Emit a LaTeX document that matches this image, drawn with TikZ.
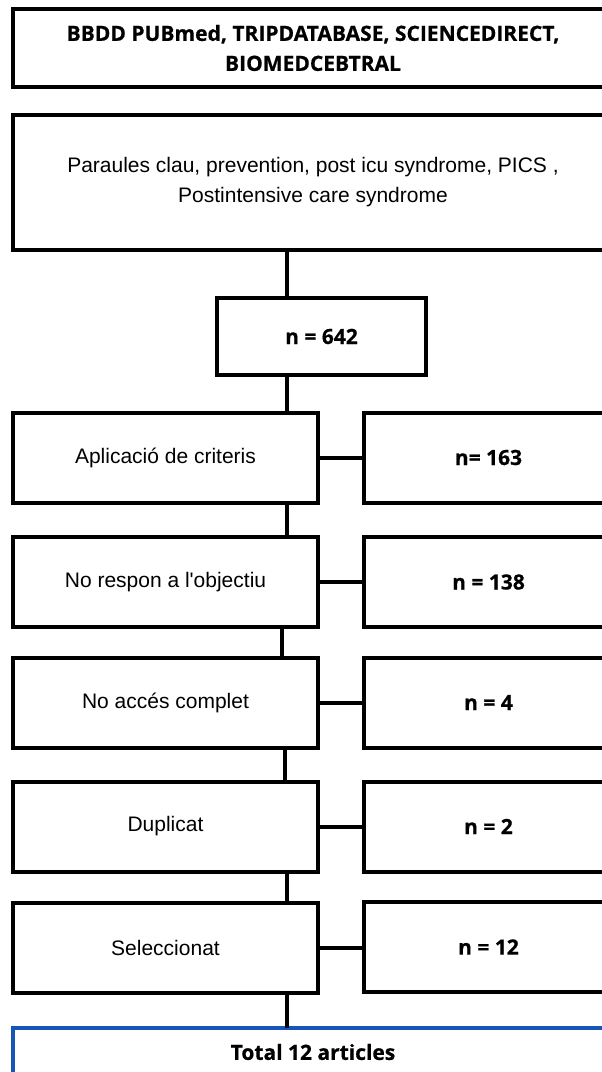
\documentclass[tikz,border=0pt]{standalone}
\usepackage{fontspec}
\setmainfont{Liberation Sans}[Ligatures=TeXOff]
\newfontfamily\opsans{Open Sans}[BoldFeatures={FakeBold=0.6}]
\definecolor{totalblue}{RGB}{22,86,184}
\begin{document}
\begin{tikzpicture}[x=1pt,y=-1pt,
  box/.style={draw=black, line width=4pt, rectangle, inner sep=0pt, outer sep=0pt, align=center,
              font=\fontsize{21}{30}\selectfont},
  bbox/.style={box, font=\opsans\bfseries\fontsize{21}{30}\selectfont},
  leftbox/.style={box, minimum width=305pt, minimum height=90pt},
  rightbox/.style={bbox, minimum width=249pt, minimum height=90pt},
  link/.style={draw=black, line width=4pt}]
\useasboundingbox (0,0) rectangle (602,1072);
\clip (0,0) rectangle (602,1072);

\node[bbox, minimum width=600pt, minimum height=78pt] (db) at (313,48)
  {BBDD PUBmed, TRIPDATABASE, SCIENCEDIRECT,\\BIOMEDCEBTRAL};
\node[box, minimum width=600pt, minimum height=135pt] (kw) at (313,182.5)
  {Paraules clau, prevention, post icu syndrome, PICS ,\\Postintensive care syndrome};
\node[bbox, minimum width=209pt, minimum height=77pt] (n) at (321.5,336.5) {n = 642};

\node[leftbox] (l1) at (165.5,457.5) {Aplicació de criteris};
\node[rightbox] (r1) at (488.5,457.5) {n= 163};
\node[leftbox] (l2) at (165.5,582) {No respon a l'objectiu};
\node[rightbox] (r2) at (488.5,582) {n = 138};
\node[leftbox] (l3) at (165.5,702.5) {No accés complet};
\node[rightbox] (r3) at (488.5,702.5) {n = 4};
\node[leftbox] (l4) at (165.5,826.5) {Duplicat};
\node[rightbox] (r4) at (488.5,826.5) {n = 2};
\node[leftbox] (l5) at (165.5,948) {Seleccionat};
\node[rightbox] (r5) at (488.5,947) {n = 12};

\node[bbox, draw=totalblue, minimum width=600pt, minimum height=48pt] (tot) at (313,1052) {Total 12 articles};

\coordinate (ca) at (287,0);
\coordinate (cb) at (282,0);
\coordinate (cc) at (285,0);

\draw[link] (kw.south -| ca) -- (n.north -| ca);
\draw[link] (n.south -| ca) -- (l1.north -| ca);
\draw[link] (l1.south -| ca) -- (l2.north -| ca);
\draw[link] (l2.south -| cb) -- (l3.north -| cb);
\draw[link] (l3.south -| cc) -- (l4.north -| cc);
\draw[link] (l4.south -| ca) -- (l5.north -| ca);
\draw[link] (l5.south -| ca) -- (tot.north -| ca);

\draw[link] (l1.east) -- (l1.east -| r1.west);
\draw[link] (l2.east) -- (l2.east -| r2.west);
\draw[link] (l3.east) -- (l3.east -| r3.west);
\draw[link] (l4.east) -- (l4.east -| r4.west);
\draw[link] (l5.east) -- (l5.east -| r5.west);
\end{tikzpicture}
\end{document}
